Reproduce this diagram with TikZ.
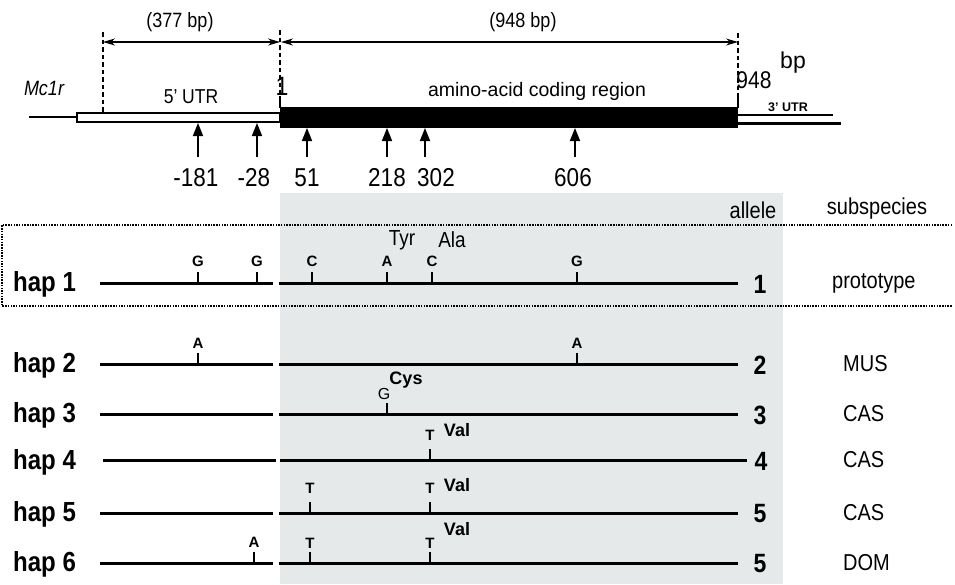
\documentclass[tikz,border=0pt]{standalone}
\usepackage{fontspec}
\setmainfont{Liberation Sans}
\usetikzlibrary{arrows.meta}
\definecolor{cdsgray}{HTML}{E6E9EA}
\newcommand\fsz[1]{\fontsize{#1}{#1}\selectfont}
% slightly taller glyphs for the larger labels
\newcommand\tall[1]{\scalebox{1}[1.15]{#1}}
\tikzset{
  lbl/.style={inner sep=0pt, font=\fsz{#1}},
  blbl/.style={inner sep=0pt, font=\fsz{#1}\bfseries},
  hapline/.style={line width=3pt},
  snptick/.style={line width=2.4pt},
  dimline/.style={line width=1.1pt, {Stealth[length=12pt,width=7pt]}-{Stealth[length=12pt,width=7pt]}},
  guide/.style={line width=1.4pt, dash pattern=on 4.5pt off 3pt},
  pointer/.style={line width=1.7pt, -{Triangle[length=13pt,width=10pt]}},
  boxline/.style={line width=1.2pt, dash pattern=on 1.5pt off 1.2pt},
}
% tick with its base letter: name, x, line y, letter, letter y
\newcommand\snp[5]{%
  \draw[snptick] (#2,#3) -- ++(0,-11);
  \node[blbl=15] (#1) at (#2,#5) {#4};}
\begin{document}
\begin{tikzpicture}[x=1pt,y=-1pt]
\useasboundingbox (0,0) rectangle (955,584);

% shaded coding-region band
\fill[cdsgray] (280,193) rectangle (783,584);

% ---------- gene model ----------
\draw[guide] (103,32) -- (103,113);
\draw[guide] (280,30) -- (280,97);
\draw[guide] (738,33) -- (738,97);

\coordinate (u0) at (103,42);
\coordinate (u1) at (280,42);
\coordinate (c0) at (281,42);
\coordinate (c1) at (738,42);
\draw[dimline] (u0) -- (u1);
\draw[dimline] (c0) -- (c1);
\node[lbl=18] (len5) at (180,22) {\tall{(377 bp)}};
\node[lbl=18] (lencds) at (523,22) {\tall{(948 bp)}};

\draw[line width=2.4pt] (29,117) -- (77,117);
\draw[line width=2.2pt, fill=white] (77,113) rectangle (280,122);
\fill (280,107) rectangle (738,128);
\draw[line width=2.8pt] (280,96) -- (280,108);
\draw[line width=2.8pt] (738,96) -- (738,108);
\draw[line width=1.7pt] (738,115) -- (833,115);
\draw[line width=3pt] (738,123) -- (841,123);

\node[lbl=18, font=\fsz{18}\itshape] (gene) at (44,88) {\tall{Mc1r}};
\node[lbl=17.5] (utr5) at (191,97) {\tall{5' UTR}};
\node[lbl=23] (start) at (282,86) {\tall{1}};
\node[lbl=19.5] (cds) at (537,91) {amino-acid coding region};
\node[lbl=21] (stop) at (754,80) {\tall{948}};
\node[lbl=23] (bp) at (793,63) {bp};
\node[blbl=12.5] (utr3) at (788,107) {3' UTR};

% variable sites along the gene
\foreach \x/\t/\c in {198/123/-181, 257/123/-28, 307/128/51, 387/128/218, 425/128/302, 575/128/606}{
  \coordinate (p\c) at (\x,157);
  \coordinate (q\c) at (\x,\t);
  \draw[pointer] (p\c) -- (q\c);
}
\node[lbl=22.5] (m181) at (196,178) {\tall{-181}};
\node[lbl=22.5] (m28)  at (254,178) {\tall{-28}};
\node[lbl=22.5] (s51)  at (307,178) {\tall{51}};
\node[lbl=22.5] (s218) at (387,178) {\tall{218}};
\node[lbl=22.5] (s302) at (436,178) {\tall{302}};
\node[lbl=22.5] (s606) at (573,178) {\tall{606}};

% ---------- haplotypes ----------
\node[lbl=20] (hallele) at (753,210) {\tall{allele}};
\node[lbl=20] (hsub) at (877,209) {\tall{subspecies}};

\draw[boxline] (952,225) -- (2,225) -- (2,306) -- (952,306);

\foreach \n/\y in {1/283, 2/364, 3/414, 5/513, 6/563}{
  \draw[hapline] (100,\y) -- (273,\y);
  \draw[hapline] (279,\y) -- (738,\y);
  \node[blbl=24, anchor=west] (hap\n) at (13,\y+1) {\tall{hap \n}};
}
\draw[hapline] (103,460) -- (276,460);
\draw[hapline] (280,460) -- (747,460);
\node[blbl=24, anchor=west] (hap4) at (13,462) {\tall{hap 4}};

\node[blbl=23] (al1) at (760,284) {\tall{1}};
\node[blbl=23] (al2) at (760,365) {\tall{2}};
\node[blbl=23] (al3) at (760,415) {\tall{3}};
\node[blbl=23] (al4) at (761,461) {\tall{4}};
\node[blbl=23] (al5) at (760,514) {\tall{5}};
\node[blbl=23] (al6) at (760,564) {\tall{5}};

\node[lbl=20, anchor=west] (sp1) at (832,283) {\tall{prototype}};
\node[lbl=20, anchor=west] (sp2) at (843,364) {\tall{MUS}};
\node[lbl=20, anchor=west] (sp3) at (843,414) {\tall{CAS}};
\node[lbl=20, anchor=west] (sp4) at (843,460) {\tall{CAS}};
\node[lbl=20, anchor=west] (sp5) at (843,513) {\tall{CAS}};
\node[lbl=20, anchor=west] (sp6) at (843,563) {\tall{DOM}};

% hap 1
\snp{a1}{198}{283}{G}{261}
\snp{a2}{257}{283}{G}{261}
\snp{a3}{312}{283}{C}{261}
\snp{a4}{387}{283}{A}{261}
\snp{a5}{432}{283}{C}{261}
\snp{a6}{577}{283}{G}{261}
\node[lbl=19] (tyr) at (402,240) {\tall{Tyr}};
\node[lbl=19] (ala) at (452,240) {\tall{Ala}};
% hap 2
\snp{b1}{198}{364}{A}{343}
\snp{b2}{577}{364}{A}{343}
% hap 3
\node[lbl=16] (c1) at (384,394) {G};
\draw[snptick] (387,414) -- ++(0,-11);
\node[blbl=18] (cys) at (406,380) {Cys};
% hap 4
\snp{d1}{430}{460}{T}{435}
\node[blbl=18] (val4) at (457,430) {Val};
% hap 5
\snp{e1}{310}{513}{T}{488}
\snp{e2}{430}{513}{T}{488}
\node[blbl=18] (val5) at (457,485) {Val};
% hap 6
\snp{f1}{254}{563}{A}{542}
\snp{f2}{310}{563}{T}{543}
\snp{f3}{430}{563}{T}{543}
\node[blbl=18] (val6) at (457,529) {Val};
\end{tikzpicture}
\end{document}
